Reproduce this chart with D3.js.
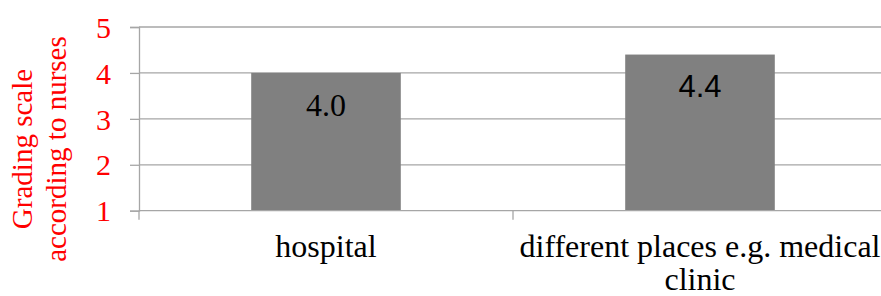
<!DOCTYPE html>
<html>
<head>
<meta charset="utf-8">
<script src="https://cdn.jsdelivr.net/npm/d3@7"></script>
<style>
  body { margin: 0; background: #fff; }
</style>
</head>
<body>
<div class="canvas"></div>
<script>
// data
const categories = ["hospital", "different places e.g. medical clinic"];
const categoryLines = [["hospital"], ["different places e.g. medical", "clinic"]];
const values = [4.0, 4.4];
const valueLabels = ["4.0", "4.4"];
const yTicks = [1, 2, 3, 4, 5];

const serif = "Liberation Serif";
const sans = "Liberation Sans";

const width = 881, height = 296;
const margin = {top: 27, right: -6, bottom: 86, left: 139};

const svg = d3.select(".canvas")
              .append("svg")
              .attr("width", width)
              .attr("height", height)
              .attr("font-family", serif);

const y = d3.scaleLinear()
            .domain([1, 5])
            .range([height - margin.bottom + 0.7, margin.top]);

const x = d3.scaleBand()
            .domain(categories)
            .range([margin.left, width - margin.right])
            .paddingInner(0.6)
            .paddingOuter(0.3);

// gridlines
svg.append("g")
   .selectAll("line")
   .data(yTicks.slice(1))
   .enter()
   .append("line")
   .attr("x1", margin.left)
   .attr("x2", width - margin.right)
   .attr("y1", d => y(d))
   .attr("y2", d => y(d))
   .attr("stroke", "#a6a6a6")
   .attr("stroke-width", 1.3);

// bars
svg.selectAll("rect")
   .data(values)
   .enter()
   .append("rect")
   .attr("x", (d, i) => x(categories[i]))
   .attr("width", x.bandwidth())
   .attr("y", d => y(d))
   .attr("height", d => y(1) - y(d))
   .attr("fill", "#808080");

// value labels (second one is sans in the original)
svg.selectAll(".val")
   .data(values)
   .enter()
   .append("text")
   .attr("class", "val")
   .attr("x", (d, i) => x(categories[i]) + x.bandwidth() / 2)
   .attr("y", (d, i) => y(d) + (i === 1 ? 42.5 : 43))
   .attr("text-anchor", "middle")
   .attr("font-family", (d, i) => i === 1 ? sans : serif)
   .attr("font-size", (d, i) => i === 1 ? 31 : 32)
   .attr("fill", "#000")
   .text((d, i) => valueLabels[i]);

// y axis
const yAxis = d3.axisLeft(y).tickValues(yTicks).tickSize(9).tickPadding(19).tickFormat(d3.format("d"));
const gy = svg.append("g")
              .attr("transform", `translate(${margin.left},0)`)
              .call(yAxis)
              .attr("font-family", serif)
              .attr("font-size", 30);
gy.select(".domain").attr("stroke", "#a6a6a6").attr("stroke-width", 1.3);
gy.selectAll(".tick line").attr("stroke", "#a6a6a6").attr("stroke-width", 1.3);
gy.selectAll(".tick text")
  .attr("fill", "#ff0000")
  .attr("dy", "0.34em");

// x axis line and category boundary ticks
const xBase = y(1);
svg.append("line")
   .attr("x1", margin.left).attr("x2", width - margin.right)
   .attr("y1", xBase).attr("y2", xBase)
   .attr("stroke", "#a6a6a6").attr("stroke-width", 1.3);
const step = x.step();
const bounds = [0, 1, 2].map(i => x(categories[0]) - x.paddingOuter() * step + i * step);
svg.append("g")
   .selectAll("line")
   .data(bounds)
   .enter()
   .append("line")
   .attr("x1", d => d).attr("x2", d => d)
   .attr("y1", xBase).attr("y2", xBase + 9)
   .attr("stroke", "#a6a6a6").attr("stroke-width", 1.3);

// category labels
const catG = svg.selectAll(".cat")
   .data(categories)
   .enter()
   .append("text")
   .attr("class", "cat")
   .attr("x", d => x(d) + x.bandwidth() / 2)
   .attr("y", 257)
   .attr("text-anchor", "middle")
   .attr("font-family", serif)
   .attr("font-size", 32)
   .attr("fill", "#000");
catG.selectAll("tspan")
    .data((d, i) => categoryLines[i])
    .enter()
    .append("tspan")
    .attr("x", function() { return d3.select(this.parentNode).attr("x"); })
    .attr("dy", (d, i) => i === 0 ? 0 : 33)
    .text(d => d);

// y title
const title = svg.append("text")
   .attr("transform", "translate(0,149) rotate(-90)")
   .attr("text-anchor", "middle")
   .attr("font-family", serif)
   .attr("font-size", 29)
   .attr("fill", "#ff0000");
title.append("tspan").attr("x", 0).attr("y", 32).text("Grading scale");
title.append("tspan").attr("x", 0).attr("y", 66).text("according to nurses");
</script>
</body>
</html>
